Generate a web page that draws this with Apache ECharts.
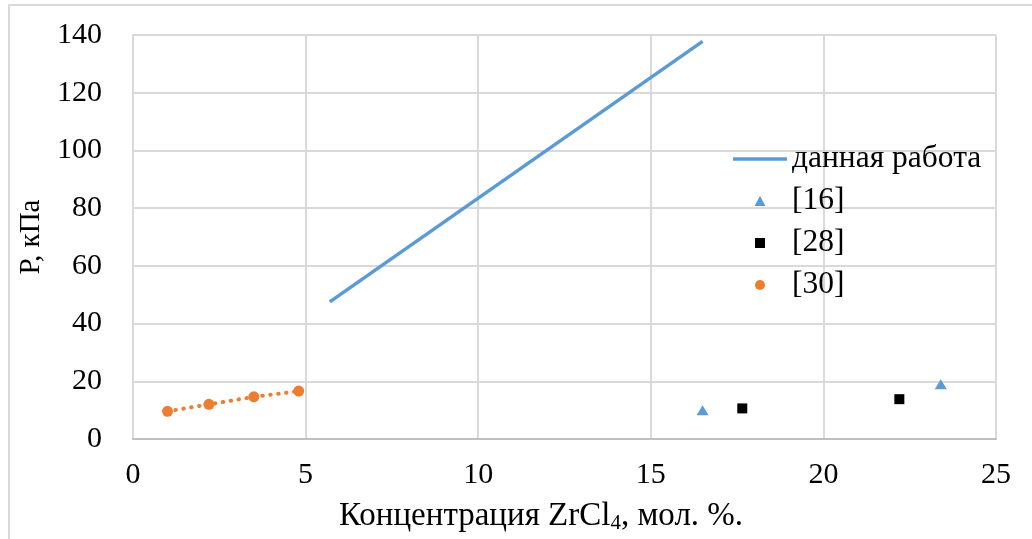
<!DOCTYPE html>
<html>
<head>
<meta charset="utf-8">
<script src="https://cdn.jsdelivr.net/npm/echarts@6/dist/echarts.min.js"></script>
<style>
html,body{margin:0;padding:0;background:#fff;}
#chart{width:1032px;height:539px;}
</style>
</head>
<body>
<div id="chart"></div>
<script>
// ---- data ----
var seriesNames = ['данная работа', '[16]', '[28]', '[30]'];
var lineThisWorkX = [5.7, 16.5];
var lineThisWorkY = [47.5, 137.8];
var ref16X = [16.5, 23.4];
var ref16Y = [10.0, 19.0];
var ref28X = [17.65, 22.2];
var ref28Y = [10.6, 13.8];
var ref30X = [1.0, 2.2, 3.5, 4.8];
var ref30Y = [9.6, 12.0, 14.6, 16.6];
var xTicks = [0, 5, 10, 15, 20, 25];
var yTicks = [0, 20, 40, 60, 80, 100, 120, 140];

function pairs(xs, ys) { return xs.map(function (x, i) { return [x, ys[i]]; }); }

var FONT = '"Liberation Serif", "Times New Roman", serif';
var chart = echarts.init(document.getElementById('chart'));
chart.setOption({
  animation: false,
  backgroundColor: '#ffffff',
  textStyle: { fontFamily: FONT, color: '#000' },
  graphic: [{
    type: 'rect', silent: true,
    shape: { x: 9, y: 5, width: 1040, height: 560 },
    style: { fill: 'none', stroke: '#d9d9d9', lineWidth: 2 }
  }],
  grid: { left: 133, right: 36, top: 35, bottom: 99 },
  xAxis: {
    type: 'value',
    min: xTicks[0], max: xTicks[xTicks.length - 1], interval: 5,
    name: 'Концентрация ZrCl{sub|4}, мол. %.',
    nameLocation: 'middle', nameGap: 60,
    nameTextStyle: {
      fontFamily: FONT, fontSize: 33, color: '#000', padding: [0, 47, 0, 0],
      rich: { sub: { fontFamily: FONT, fontSize: 21, color: '#000', padding: [14, 0, 0, 0] } }
    },
    axisLine: { show: true, lineStyle: { color: '#bfbfbf', width: 2 } },
    axisTick: { show: false },
    axisLabel: { fontFamily: FONT, fontSize: 30, color: '#000', margin: 21 },
    splitLine: { show: true, lineStyle: { color: '#d9d9d9', width: 2 } }
  },
  yAxis: {
    type: 'value',
    min: yTicks[0], max: yTicks[yTicks.length - 1], interval: 20,
    name: 'Р, кПа',
    nameLocation: 'middle', nameGap: 82, nameRotate: 90,
    nameTextStyle: { fontFamily: FONT, fontSize: 29, color: '#000' },
    axisLine: { show: true, lineStyle: { color: '#d9d9d9', width: 2 } },
    axisTick: { show: false },
    axisLabel: { fontFamily: FONT, fontSize: 30, color: '#000', margin: 31 },
    splitLine: { show: true, lineStyle: { color: '#d9d9d9', width: 2 } }
  },
  legend: {
    orient: 'vertical',
    left: 728, top: 138,
    itemWidth: 54, itemHeight: 10, itemGap: 10,
    symbolKeepAspect: true,
    textStyle: { fontFamily: FONT, fontSize: 31.5, color: '#000' },
    data: [
      { name: seriesNames[0], icon: 'path://M0,0 L54,0 L54,3.5 L0,3.5 Z', itemStyle: { color: '#5b9bd5' } },
      { name: seriesNames[1], icon: 'path://M5.5,0 L11,10 L0,10 Z', itemStyle: { color: '#5b9bd5' } },
      { name: seriesNames[2], icon: 'path://M0,0 L10,0 L10,10 L0,10 Z', itemStyle: { color: '#000' } },
      { name: seriesNames[3], icon: 'circle', itemStyle: { color: '#ed7d31' } }
    ]
  },
  series: [
    {
      name: seriesNames[0], type: 'line', data: pairs(lineThisWorkX, lineThisWorkY),
      symbol: 'none', lineStyle: { color: '#5b9bd5', width: 3.5 }, itemStyle: { color: '#5b9bd5' }
    },
    {
      name: seriesNames[1], type: 'scatter', data: pairs(ref16X, ref16Y),
      symbol: 'triangle', symbolSize: [12, 10], itemStyle: { color: '#5b9bd5', opacity: 1 }
    },
    {
      name: seriesNames[2], type: 'scatter', data: pairs(ref28X, ref28Y),
      symbol: 'rect', symbolSize: 10, itemStyle: { color: '#000', opacity: 1 }
    },
    {
      name: 'trend30', type: 'line', data: pairs(ref30X, ref30Y),
      symbol: 'none', silent: true,
      lineStyle: { color: '#ed7d31', width: 4, type: [0.5, 7.5], cap: 'round' }
    },
    {
      name: seriesNames[3], type: 'scatter', data: pairs(ref30X, ref30Y),
      symbol: 'circle', symbolSize: 11, itemStyle: { color: '#ed7d31', opacity: 1 }
    }
  ]
});
</script>
</body>
</html>
